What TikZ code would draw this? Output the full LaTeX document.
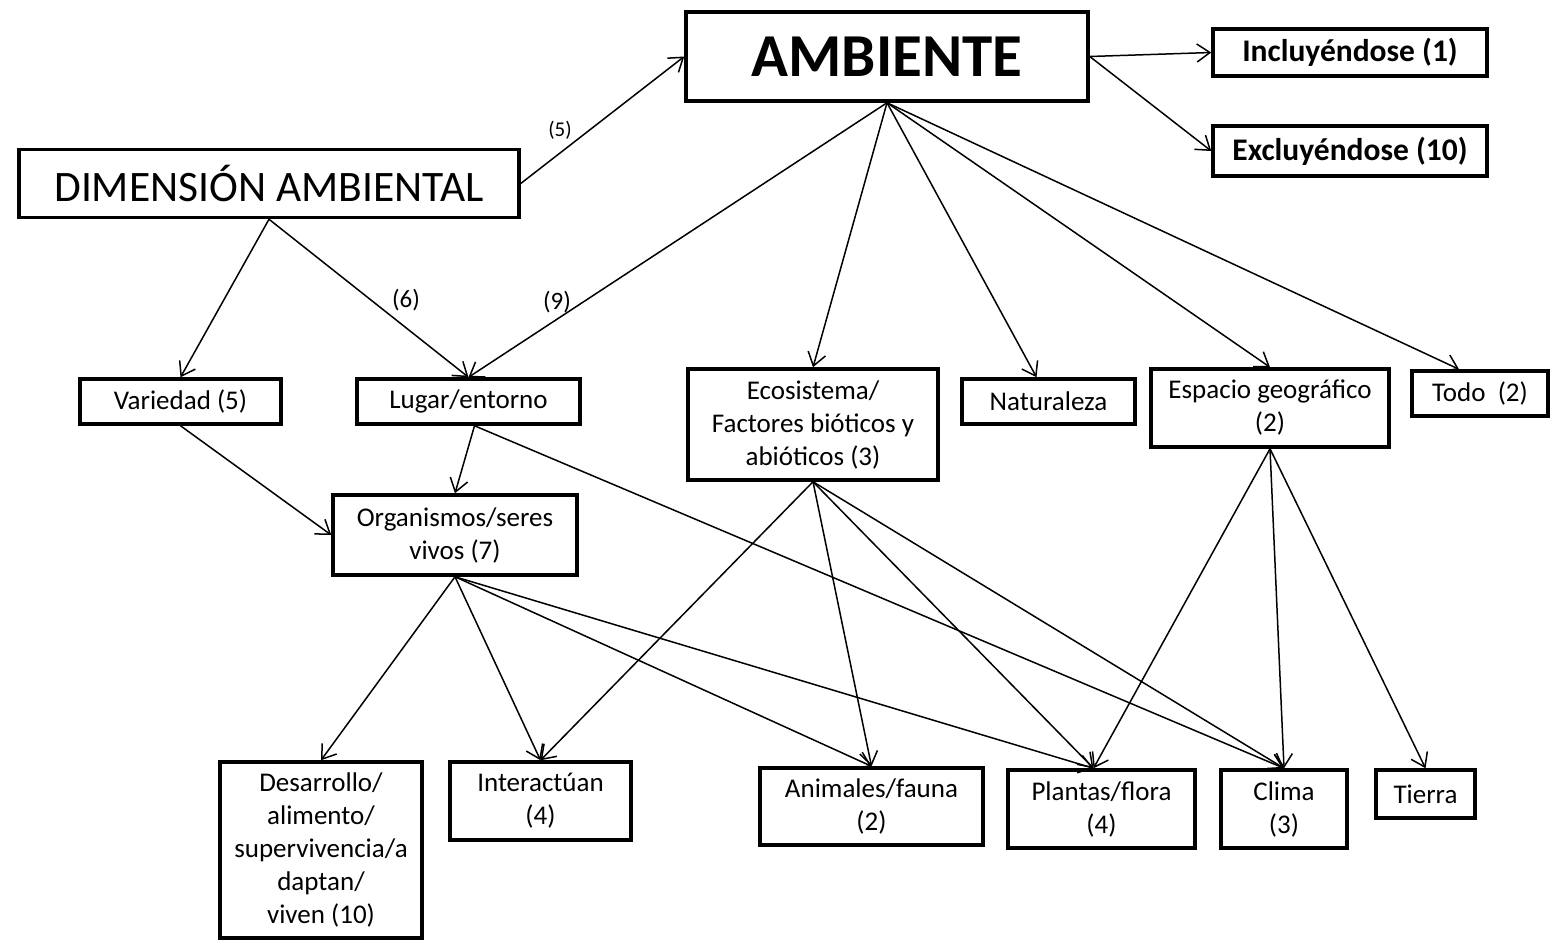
\documentclass[tikz,border=0pt]{standalone}
\usepackage{fontspec}
\setmainfont{Carlito}
\usetikzlibrary{arrows.meta}
\begin{document}
\begin{tikzpicture}[x=1pt,y=-1pt,
  box/.style={draw, line width=3.5pt, align=center, inner sep=0pt,
    font=\fontsize{27}{33}\selectfont},
  conn/.style={line width=1.5pt,
    -{Straight Barb[length=13pt,width=18pt,line width=1.5pt]}},
  lbl/.style={font=\fontsize{25}{29}\selectfont, inner sep=0pt}]
\useasboundingbox (0,0) rectangle (1554,948);

% top level
\node[box, minimum width=500pt, minimum height=68pt, font=\fontsize{43.5}{50}\selectfont]
  (dim) at (269,183.5) {DIMENSIÓN AMBIENTAL};
\node[box, minimum width=402pt, minimum height=89pt, font=\fontsize{61}{70}\selectfont\bfseries]
  (amb) at (887,56.5) {AMBIENTE};
\node[box, minimum width=274pt, minimum height=47pt, font=\fontsize{31.5}{36}\selectfont\bfseries]
  (incl) at (1350,52.5) {Incluyéndose (1)};
\node[box, minimum width=274pt, minimum height=50pt, font=\fontsize{31.5}{36}\selectfont\bfseries]
  (excl) at (1350,151) {Excluyéndose (10)};

% middle row
\node[box, minimum width=201pt, minimum height=45pt] (var) at (180.5,401.5) {Variedad (5)};
\node[box, minimum width=223pt, minimum height=45pt] (lug) at (468.5,401.5) {Lugar/entorno};
\node[box, minimum width=250pt, minimum height=111pt] (eco) at (813,424.5)
  {Ecosistema/\\Factores bióticos y\\abióticos (3)};
\node[box, minimum width=173pt, minimum height=45pt] (nat) at (1048.5,401.5) {Naturaleza};
\node[box, minimum width=238pt, minimum height=78pt] (esp) at (1270,408)
  {Espacio geográfico\\(2)};
\node[box, minimum width=136pt, minimum height=45pt] (todo) at (1480,393.5) {Todo\ \ (2)};
\node[box, minimum width=244pt, minimum height=80pt] (org) at (455,535)
  {Organismos/seres\\vivos (7)};

% bottom row
\node[box, minimum width=202pt, minimum height=176pt] (des) at (321,850)
  {Desarrollo/\\alimento/\\supervivencia/a\\daptan/\\viven (10)};
\node[box, minimum width=181pt, minimum height=78pt] (inter) at (540.5,801) {Interactúan\\(4)};
\node[box, minimum width=223pt, minimum height=77pt] (ani) at (871.5,806.5) {Animales/fauna\\(2)};
\node[box, minimum width=187pt, minimum height=78pt] (pla) at (1101.5,809) {Plantas/flora\\(4)};
\node[box, minimum width=126pt, minimum height=78pt] (cli) at (1284,809) {Clima\\(3)};
\node[box, minimum width=99pt, minimum height=48pt] (tie) at (1425.5,794) {Tierra};

% connector labels
\node[lbl, font=\fontsize{21}{25}\selectfont] (l5) at (560,130) {(5)};
\node[lbl] (l6) at (406,300) {(6)};
\node[lbl] (l9) at (557,302) {(9)};

% connectors
\draw[conn] (dim.east) -- (amb.west);
\draw[conn] (amb.east) -- (incl.west);
\draw[conn] (amb.east) -- (excl.west);
\draw[conn] (amb.south) -- (lug.north);
\draw[conn] (amb.south) -- (eco.north);
\draw[conn] (amb.south) -- ([xshift=-12pt]nat.north);
\draw[conn] (amb.south) -- (esp.north);
\draw[conn] (amb.south) -- ([xshift=-21pt]todo.north);
\draw[conn] (dim.south) -- (var.north);
\draw[conn] (dim.south) -- (lug.north);
\draw[conn] (var.south) -- (org.west);
\draw[conn] ([xshift=6pt]lug.south) -- (org.north);
\draw[conn] ([xshift=6pt]lug.south) -- (cli.north);
\draw[conn] (eco.south) -- (inter.north);
\draw[conn] (eco.south) -- (ani.north);
\draw[conn] (eco.south) -- ([xshift=-8pt]pla.north);
\draw[conn] (eco.south) -- (cli.north);
\draw[conn] (esp.south) -- ([xshift=-8pt]pla.north);
\draw[conn] (esp.south) -- (cli.north);
\draw[conn] (esp.south) -- (tie.north);
\draw[conn] (org.south) -- (des.north);
\draw[conn] (org.south) -- (inter.north);
\draw[conn] (org.south) -- (ani.north);
\draw[conn] (org.south) -- ([xshift=-8pt]pla.north);
\end{tikzpicture}
\end{document}
